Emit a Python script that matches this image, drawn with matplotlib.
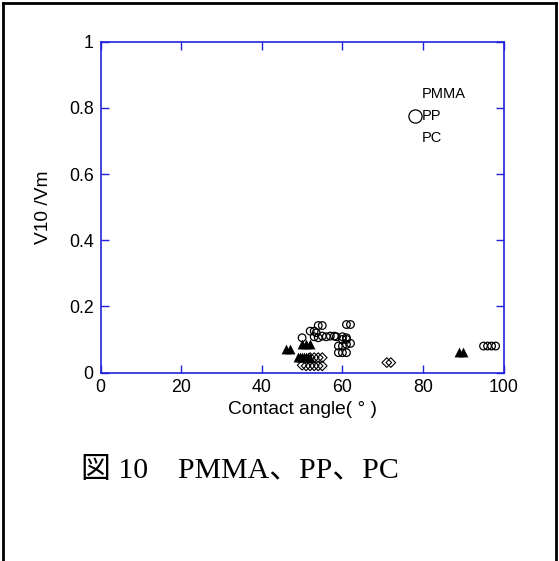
import matplotlib
matplotlib.use('Agg')
import matplotlib.pyplot as plt
from matplotlib.lines import Line2D

plt.rcParams['font.family'] = ['Liberation Sans', 'DejaVu Sans']

# PP (open circles)
pp_x = [50, 52, 53, 53.5, 54, 55, 53, 54, 55, 56, 57, 58, 58.5, 60, 61,
        61, 62, 60, 61, 59, 60, 61, 62, 59, 60, 61, 95, 96, 97, 98]
pp_y = [0.105, 0.125, 0.125, 0.12, 0.142, 0.142, 0.108, 0.105, 0.11, 0.108, 0.11, 0.11, 0.108, 0.108, 0.105,
        0.145, 0.145, 0.1, 0.1, 0.08, 0.08, 0.085, 0.088, 0.06, 0.06, 0.06, 0.08, 0.08, 0.08, 0.08]

# PMMA (filled triangles)
pmma_x = [46, 47, 50, 51, 52, 49, 49.5, 50, 50.5, 51, 51.5, 52, 89, 90]
pmma_y = [0.072, 0.072, 0.087, 0.087, 0.087, 0.047, 0.048, 0.047, 0.048, 0.046, 0.047, 0.045, 0.062, 0.062]

# PC (open diamonds)
pc_x = [50, 51, 52, 53, 54, 55, 52, 53, 54, 55, 71, 72]
pc_y = [0.022, 0.02, 0.02, 0.02, 0.02, 0.02, 0.045, 0.045, 0.045, 0.045, 0.03, 0.03]

x_ticks = [0, 20, 40, 60, 80, 100]
y_ticks = [0, 0.2, 0.4, 0.6, 0.8, 1]
y_ticklabels = ['0', '0.2', '0.4', '0.6', '0.8', '1']

fig = plt.figure(figsize=(5.59, 5.61), dpi=100)
ax = fig.add_axes([100.5 / 559, 1 - 372.5 / 561, 403.2 / 559, 330.8 / 561])

ax.scatter(pp_x, pp_y, s=30, facecolors='none', edgecolors='black', linewidths=0.9, marker='o')
ax.scatter(pmma_x, pmma_y, s=50, color='black', marker='^', linewidths=0)
ax.scatter(pc_x, pc_y, s=24, facecolors='none', edgecolors='black', linewidths=0.8, marker='D')

ax.set_xlim(0, 100)
ax.set_ylim(0, 1)
ax.set_xticks(x_ticks)
ax.set_yticks(y_ticks)
ax.set_yticklabels(y_ticklabels)
blue = '#2222dd'
for sp in ax.spines.values():
    sp.set_color(blue)
    sp.set_linewidth(1.2)
ax.tick_params(direction='in', length=6, width=1, color=blue, top=True, right=True,
               labelsize=12.8, labelcolor='black', pad=5)
ax.set_xlabel('Contact angle( ° )', fontsize=13.8, labelpad=3)
ax.set_ylabel('V10 /Vm', fontsize=13.8, labelpad=12)

# legend block: only the circle symbol is visible
ax.text(79.7, 0.842, 'PMMA', fontsize=10.5, va='center', ha='left')
ax.text(79.7, 0.775, 'PP', fontsize=10.5, va='center', ha='left')
ax.text(79.7, 0.71, 'PC', fontsize=10.5, va='center', ha='left')
ax.plot([77.9], [0.775], marker='o', markersize=9.5, markerfacecolor='none',
        markeredgecolor='black', markeredgewidth=0.9, clip_on=False)

fig.text(81 / 559, 1 - 471 / 561, '図 10\u3000PMMA、PP、PC', fontsize=21.5,
         family=['Liberation Serif', 'Noto Sans CJK JP'], va='center', ha='left')

# page frame
for xs, ys in [([3 / 559, 3 / 559], [0, 1 - 3 / 561]),
               ([3 / 559, 556 / 559], [1 - 3 / 561, 1 - 3 / 561]),
               ([556 / 559, 556 / 559], [0, 1 - 3 / 561])]:
    fig.add_artist(Line2D(xs, ys, color='black', linewidth=2, transform=fig.transFigure))

fig.savefig('out.png', dpi=100)
